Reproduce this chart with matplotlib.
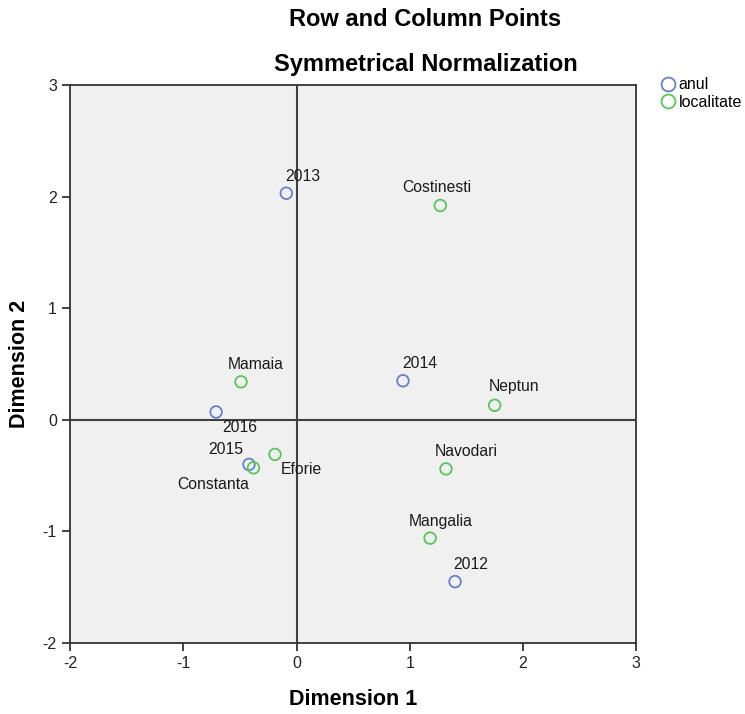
import matplotlib
matplotlib.use('Agg')
import matplotlib.pyplot as plt
from matplotlib.lines import Line2D

plt.rcParams['font.family'] = ['Liberation Sans', 'DejaVu Sans']
plt.rcParams['axes.unicode_minus'] = False

# row points (anul)
anul_labels = ['2012', '2013', '2014', '2015', '2016']
anul_x = [1.40, -0.09, 0.94, -0.42, -0.71]
anul_y = [-1.45, 2.03, 0.35, -0.40, 0.07]

# column points (localitate)
loc_labels = ['Costinesti', 'Mamaia', 'Neptun', 'Eforie', 'Constanta', 'Navodari', 'Mangalia']
loc_x = [1.27, -0.49, 1.75, -0.19, -0.38, 1.32, 1.18]
loc_y = [1.92, 0.34, 0.13, -0.31, -0.43, -0.44, -1.06]

# label offsets in pixels (dx, dy)
offsets = {
    '2012': (16, 17), '2013': (16, 17), '2014': (17, 17), '2015': (-23, 15), '2016': (24, -16),
    'Costinesti': (-4, 18), 'Mamaia': (15, 17), 'Neptun': (19, 19), 'Eforie': (26, -15),
    'Constanta': (-40, -17), 'Navodari': (20, 17), 'Mangalia': (11, 17),
}

blue = '#6a7fcc'
green = '#55c85a'

fig = plt.figure(figsize=(7.45, 7.14), dpi=100)
ax = fig.add_axes([0.094, 0.0994, 0.76, 0.7816])
ax.set_facecolor('#f0f0f0')

ax.axhline(0, color='#404040', lw=1.5, zorder=1)
ax.axvline(0, color='#404040', lw=1.5, zorder=1)

ax.scatter(anul_x, anul_y, s=70, facecolors='none', edgecolors=blue, linewidths=1.3, zorder=3)
ax.scatter(loc_x, loc_y, s=70, facecolors='none', edgecolors=green, linewidths=1.3, zorder=3)

for lab, x, y in list(zip(anul_labels, anul_x, anul_y)) + list(zip(loc_labels, loc_x, loc_y)):
    dx, dy = offsets[lab]
    ax.annotate(lab, (x, y), xytext=(dx, dy), textcoords='offset pixels',
                ha='center', va='center', fontsize=11.3, color='#1a1a1a', zorder=4)

ax.set_xlim(-2, 3)
ax.set_ylim(-2, 3)
ax.set_xticks([-2, -1, 0, 1, 2, 3])
ax.set_yticks([-2, -1, 0, 1, 2, 3])
ax.tick_params(direction='out', length=6, width=1.2, labelsize=11.5, colors='#222222')
for sp in ax.spines.values():
    sp.set_color('#333333')
    sp.set_linewidth(1.3)

ax.set_xlabel('Dimension 1', fontsize=15.5, fontweight='bold', labelpad=13)
ax.set_ylabel('Dimension 2', fontsize=15.5, fontweight='bold', labelpad=9)

fig.text(0.570, 0.973, 'Row and Column Points', ha='center', va='center', fontsize=17, fontweight='bold')
fig.text(0.572, 0.910, 'Symmetrical Normalization', ha='center', va='center', fontsize=17, fontweight='bold')

handles = [
    Line2D([], [], marker='o', ls='none', markersize=10, markerfacecolor='none', markeredgecolor=blue, markeredgewidth=1.3),
    Line2D([], [], marker='o', ls='none', markersize=10, markerfacecolor='none', markeredgecolor=green, markeredgewidth=1.3),
]
fig.legend(handles, ['anul', 'localitate'], loc='upper left', bbox_to_anchor=(0.885, 0.892),
           frameon=False, fontsize=11.5, handletextpad=0.1, labelspacing=0.15, borderpad=0.0,
           handlelength=1.1, borderaxespad=0.0)

fig.savefig('out.png', dpi=100, facecolor='white')
